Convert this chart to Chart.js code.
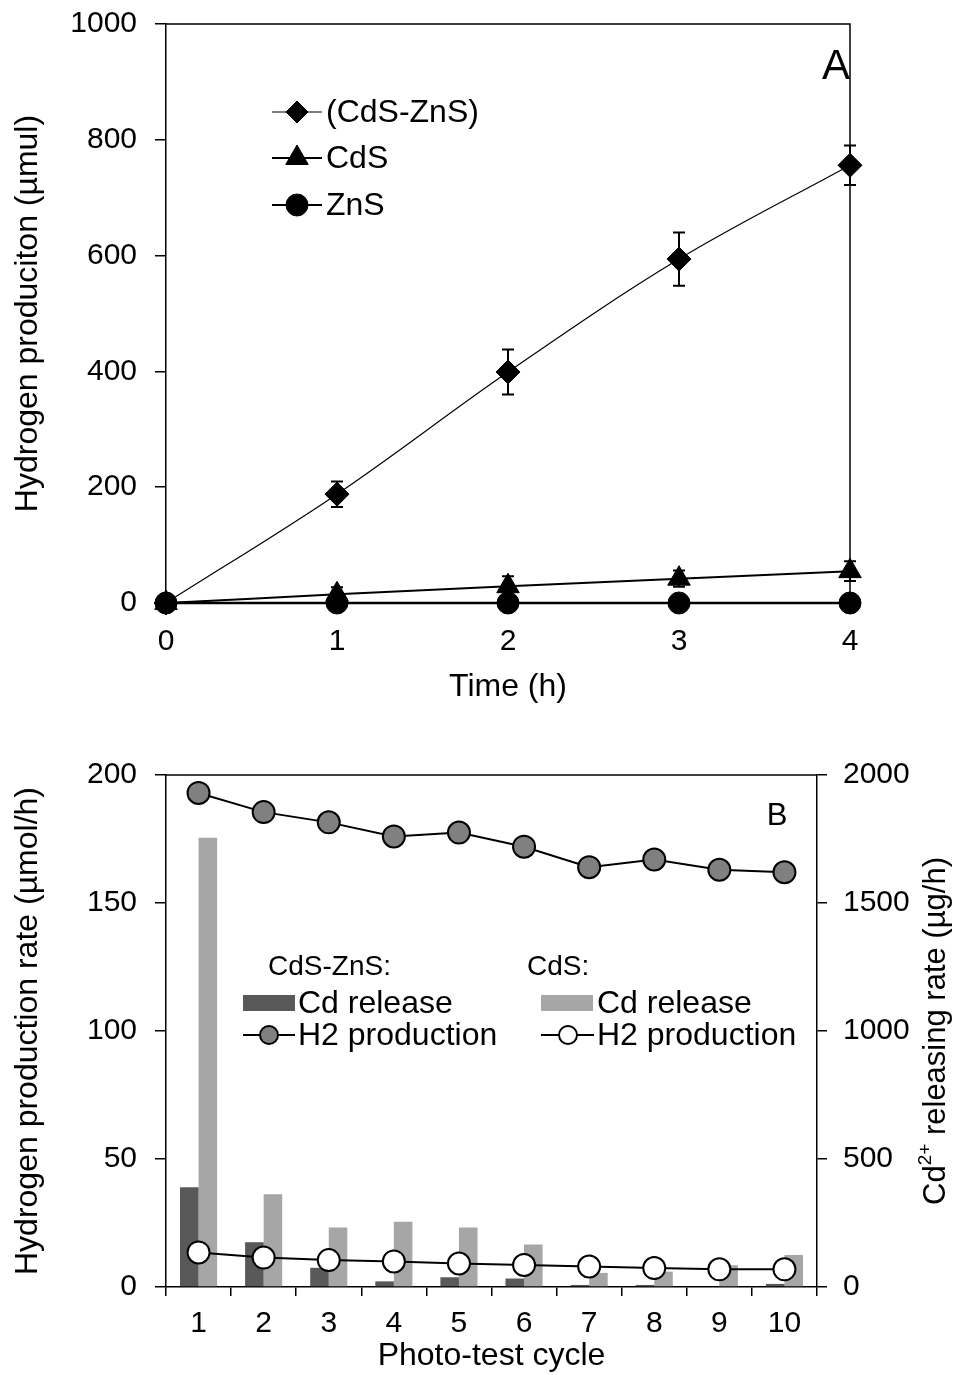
<!DOCTYPE html>
<html lang="en">
<head>
<meta charset="UTF-8">
<title>Hydrogen production and Cd release</title>
<script src="https://cdn.jsdelivr.net/npm/chart.js@4"></script>
<style>
  body { margin: 0; background: #fff; }
  #wrapA { position: absolute; left: 0; top: 0; width: 960px; height: 706px; }
  #wrapB { position: absolute; left: 0; top: 706px; width: 960px; height: 669px; }
</style>
</head>
<body>
<div id="wrapA"><canvas id="chartA" width="960" height="706"></canvas></div>
<div id="wrapB"><canvas id="chartB" width="960" height="669"></canvas></div>
<script>
// ---- panel A: cumulative hydrogen
const hours = [0, 1, 2, 3, 4];
const cdsZnsH2 = [0, 188, 399, 594, 756];
const cdsZnsErr = [0, 22, 39, 46, 34];
const cdsH2 = [0, 15, 29, 42, 55];
const cdsErr = [0, 12, 17, 14, 17];
const znsH2 = [0, 0, 0, 0, 0];

// ---- panel B: repeated cycles
const cycles = ['1', '2', '3', '4', '5', '6', '7', '8', '9', '10'];
const rateCdsZns = [193, 185.5, 181.5, 176, 177.5, 172, 164, 167, 163, 162];
const rateCds = [13.5, 11.5, 10.5, 10, 9.2, 8.6, 8, 7.4, 6.9, 6.9];
const cdReleaseCdsZns = [390, 175, 75, 22, 38, 33, 8, 8, -6, 12];
const cdReleaseCds = [1755, 362, 232, 255, 232, 166, 55, 60, 85, 125];

const FONT = "'Liberation Sans', Arial, sans-serif";
Chart.defaults.font.family = FONT;
Chart.defaults.font.size = 30;
Chart.defaults.color = '#000';
const titleFont = { size: 32 };

function pts(xs, ys) { return xs.map((x, i) => ({ x: x, y: ys[i] })); }
const plain = v => String(v);
// keep the plot box where layout.padding puts it
function noPad(s) { s.paddingTop = 0; s.paddingBottom = 0; s.paddingLeft = 0; s.paddingRight = 0; }

function marker(ctx, style, x, y, r, fill) {
  ctx.save();
  ctx.fillStyle = fill;
  ctx.strokeStyle = '#000';
  ctx.lineWidth = style === 'circle2' ? 2 : 1;
  ctx.beginPath();
  if (style === 'rectRot') {
    ctx.moveTo(x - r, y); ctx.lineTo(x, y - r); ctx.lineTo(x + r, y); ctx.lineTo(x, y + r);
    ctx.closePath();
  } else if (style === 'triangle') {
    ctx.moveTo(x, y - r);
    ctx.lineTo(x + r * 0.866, y + r * 0.5);
    ctx.lineTo(x - r * 0.866, y + r * 0.5);
    ctx.closePath();
  } else {
    ctx.arc(x, y, r, 0, Math.PI * 2);
  }
  ctx.fill();
  ctx.stroke();
  ctx.restore();
}

function hline(ctx, x1, x2, y, w) {
  ctx.save();
  ctx.strokeStyle = '#000';
  ctx.lineWidth = w;
  ctx.beginPath(); ctx.moveTo(x1, y); ctx.lineTo(x2, y); ctx.stroke();
  ctx.restore();
}

const errorBars = {
  id: 'errorBars',
  beforeDatasetsDraw(chart) {
    const ctx = chart.ctx, ys = chart.scales.y;
    chart.data.datasets.forEach((ds, di) => {
      if (!ds.errors) return;
      chart.getDatasetMeta(di).data.forEach((p, i) => {
        const e = ds.errors[i];
        if (!e) return;
        const v = ds.data[i].y;
        const yt = ys.getPixelForValue(v + e), yb = ys.getPixelForValue(v - e);
        ctx.save();
        ctx.strokeStyle = '#000';
        ctx.lineWidth = 2;
        ctx.beginPath();
        ctx.moveTo(p.x, yt); ctx.lineTo(p.x, yb);
        ctx.moveTo(p.x - 6, yt); ctx.lineTo(p.x + 6, yt);
        ctx.moveTo(p.x - 6, yb); ctx.lineTo(p.x + 6, yb);
        ctx.stroke();
        ctx.restore();
      });
    });
  }
};

// frame + labels for panel A
const decoA = {
  id: 'decoA',
  afterDraw(chart) {
    const ctx = chart.ctx, a = chart.chartArea;
    ctx.save();
    ctx.strokeStyle = '#000';
    ctx.lineWidth = 1.5;
    ctx.beginPath();
    ctx.moveTo(a.left, a.top); ctx.lineTo(a.right, a.top); ctx.lineTo(a.right, a.bottom);
    ctx.stroke();
    ctx.fillStyle = '#000';
    ctx.font = '42px ' + FONT;
    ctx.textAlign = 'center';
    ctx.textBaseline = 'alphabetic';
    ctx.fillText('A', 836, 79);

    const rows = [
      { text: '(CdS-ZnS)', style: 'rectRot', r: 11, y: 112, w: 1.2 },
      { text: 'CdS', style: 'triangle', r: 13, y: 158, w: 2 },
      { text: 'ZnS', style: 'circle', r: 11, y: 205, w: 2 }
    ];
    ctx.font = '32px ' + FONT;
    ctx.textAlign = 'left';
    ctx.textBaseline = 'middle';
    rows.forEach(r => {
      hline(ctx, 272, 322, r.y, r.w);
      marker(ctx, r.style, 297, r.y, r.r, '#000');
      ctx.fillStyle = '#000';
      ctx.fillText(r.text, 326, r.y + 1);
    });
    ctx.restore();
  }
};

new Chart(document.getElementById('chartA'), {
  type: 'line',
  data: {
    datasets: [
      { label: '(CdS-ZnS)', data: pts(hours, cdsZnsH2), errors: cdsZnsErr,
        borderColor: '#000', backgroundColor: '#000', borderWidth: 1.2, tension: 0.35,
        pointStyle: 'rectRot', pointRadius: 12, pointBorderWidth: 1, clip: false },
      { label: 'CdS', data: pts(hours, cdsH2), errors: cdsErr,
        borderColor: '#000', backgroundColor: '#000', borderWidth: 2, tension: 0.2,
        pointStyle: 'triangle', pointRadius: 13, pointBorderWidth: 1, clip: false },
      { label: 'ZnS', data: pts(hours, znsH2),
        borderColor: '#000', backgroundColor: '#000', borderWidth: 2.5, tension: 0,
        pointStyle: 'circle', pointRadius: 11, pointBorderWidth: 1, clip: false }
    ]
  },
  options: {
    responsive: false,
    animation: false,
    devicePixelRatio: 1,
    layout: { padding: { top: 24, right: 110, left: 0, bottom: 0 } },
    plugins: { legend: { display: false }, tooltip: { enabled: false } },
    scales: {
      x: {
        type: 'linear', min: 0, max: 4,
        ticks: { stepSize: 1, padding: 21, callback: plain },
        grid: { display: false, drawTicks: false, tickLength: 0 },
        border: { display: true, color: '#000', width: 1.5 },
        title: { display: true, text: 'Time (h)', font: titleFont, padding: { top: 0, bottom: 0 } },
        afterFit: s => { s.height = 103; noPad(s); }
      },
      y: {
        min: 0, max: 1000,
        ticks: { stepSize: 200, padding: 18, callback: plain },
        grid: { drawOnChartArea: false, drawTicks: true, tickLength: 11, color: '#000', lineWidth: 1.5 },
        border: { color: '#000', width: 1.5 },
        title: { display: true, text: 'Hydrogen produciton (µmul)', font: titleFont, padding: { top: 9, bottom: 0 } },
        afterFit: s => { s.width = 166; noPad(s); }
      }
    }
  },
  plugins: [errorBars, decoA]
});

// frame, right title and legend for panel B
const decoB = {
  id: 'decoB',
  afterDraw(chart) {
    const ctx = chart.ctx, a = chart.chartArea;
    hline(ctx, a.left, a.right, a.top, 1.5);
    ctx.save();
    ctx.fillStyle = '#000';
    ctx.font = '31px ' + FONT;
    ctx.textAlign = 'center';
    ctx.textBaseline = 'alphabetic';
    ctx.fillText('B', 777, 119);

    // right axis title, reading bottom to top, with superscript
    const cy = (a.top + a.bottom) / 2;
    ctx.translate(936, cy);
    ctx.rotate(-Math.PI / 2);
    ctx.textBaseline = 'middle';
    ctx.textAlign = 'left';
    const big = '31px ' + FONT, small = '19px ' + FONT;
    ctx.font = big;
    const w1 = ctx.measureText('Cd').width;
    const w3 = ctx.measureText(' releasing rate (µg/h)').width;
    ctx.font = small;
    const w2 = ctx.measureText('2+').width;
    let x = -(w1 + w2 + w3) / 2;
    ctx.font = big; ctx.fillText('Cd', x, 0); x += w1;
    ctx.font = small; ctx.fillText('2+', x, -10); x += w2;
    ctx.font = big; ctx.fillText(' releasing rate (µg/h)', x, 0);
    ctx.restore();

    // legend
    ctx.save();
    ctx.fillStyle = '#000';
    ctx.textAlign = 'left';
    ctx.textBaseline = 'middle';
    ctx.font = '28px ' + FONT;
    ctx.fillText('CdS-ZnS:', 268, 261);
    ctx.fillText('CdS:', 527, 261);
    ctx.font = '32px ' + FONT;
    ctx.fillStyle = '#595959';
    ctx.fillRect(243, 289, 52, 16);
    ctx.fillStyle = '#a6a6a6';
    ctx.fillRect(541, 289, 52, 16);
    ctx.fillStyle = '#000';
    ctx.fillText('Cd release', 298, 298);
    ctx.fillText('Cd release', 597, 298);
    hline(ctx, 243, 295, 329, 2);
    marker(ctx, 'circle2', 269, 329, 9, '#808080');
    hline(ctx, 541, 594, 329, 2);
    marker(ctx, 'circle2', 568, 329, 9, '#ffffff');
    ctx.fillStyle = '#000';
    ctx.fillText('H2 production', 298, 330);
    ctx.fillText('H2 production', 597, 330);
    ctx.restore();
  }
};

new Chart(document.getElementById('chartB'), {
  type: 'bar',
  data: {
    labels: cycles,
    datasets: [
      { type: 'line', label: 'CdS-ZnS H2 production', data: rateCdsZns, yAxisID: 'y', order: 0,
        borderColor: '#000', borderWidth: 2, tension: 0,
        pointRadius: 11, pointBackgroundColor: '#808080', pointBorderColor: '#000', pointBorderWidth: 2 },
      { type: 'line', label: 'CdS H2 production', data: rateCds, yAxisID: 'y', order: 0,
        borderColor: '#000', borderWidth: 2, tension: 0,
        pointRadius: 11, pointBackgroundColor: '#ffffff', pointBorderColor: '#000', pointBorderWidth: 2 },
      { type: 'bar', label: 'CdS-ZnS Cd release', data: cdReleaseCdsZns, yAxisID: 'y2', order: 1,
        backgroundColor: '#595959', barPercentage: 1, categoryPercentage: 0.57 },
      { type: 'bar', label: 'CdS Cd release', data: cdReleaseCds, yAxisID: 'y2', order: 1,
        backgroundColor: '#a6a6a6', barPercentage: 1, categoryPercentage: 0.57 }
    ]
  },
  options: {
    responsive: false,
    animation: false,
    devicePixelRatio: 1,
    layout: { padding: { top: 69, right: 0, left: 0, bottom: 0 } },
    plugins: { legend: { display: false }, tooltip: { enabled: false } },
    scales: {
      x: {
        offset: true,
        ticks: { padding: 10 },
        grid: { offset: true, drawOnChartArea: false, drawTicks: true, tickLength: 9, color: '#000', lineWidth: 1.5 },
        border: { color: '#000', width: 1.5 },
        title: { display: true, text: 'Photo-test cycle', font: titleFont, padding: { top: 0, bottom: 0 } },
        afterFit: s => { s.height = 88; noPad(s); }
      },
      y: {
        position: 'left', min: 0, max: 200,
        ticks: { stepSize: 50, padding: 18, callback: plain },
        grid: { drawOnChartArea: false, drawTicks: true, tickLength: 11, color: '#000', lineWidth: 1.5 },
        border: { color: '#000', width: 1.5 },
        title: { display: true, text: 'Hydrogen production rate (µmol/h)', font: titleFont, padding: { top: 9, bottom: 0 } },
        afterFit: s => { s.width = 166; noPad(s); }
      },
      y2: {
        position: 'right', min: 0, max: 2000,
        ticks: { stepSize: 500, padding: 16, callback: plain },
        grid: { drawOnChartArea: false, drawTicks: true, tickLength: 10, color: '#000', lineWidth: 1.5 },
        border: { color: '#000', width: 1.5 },
        afterFit: s => { s.width = 143; noPad(s); }
      }
    }
  },
  plugins: [decoB]
});
</script>
</body>
</html>
